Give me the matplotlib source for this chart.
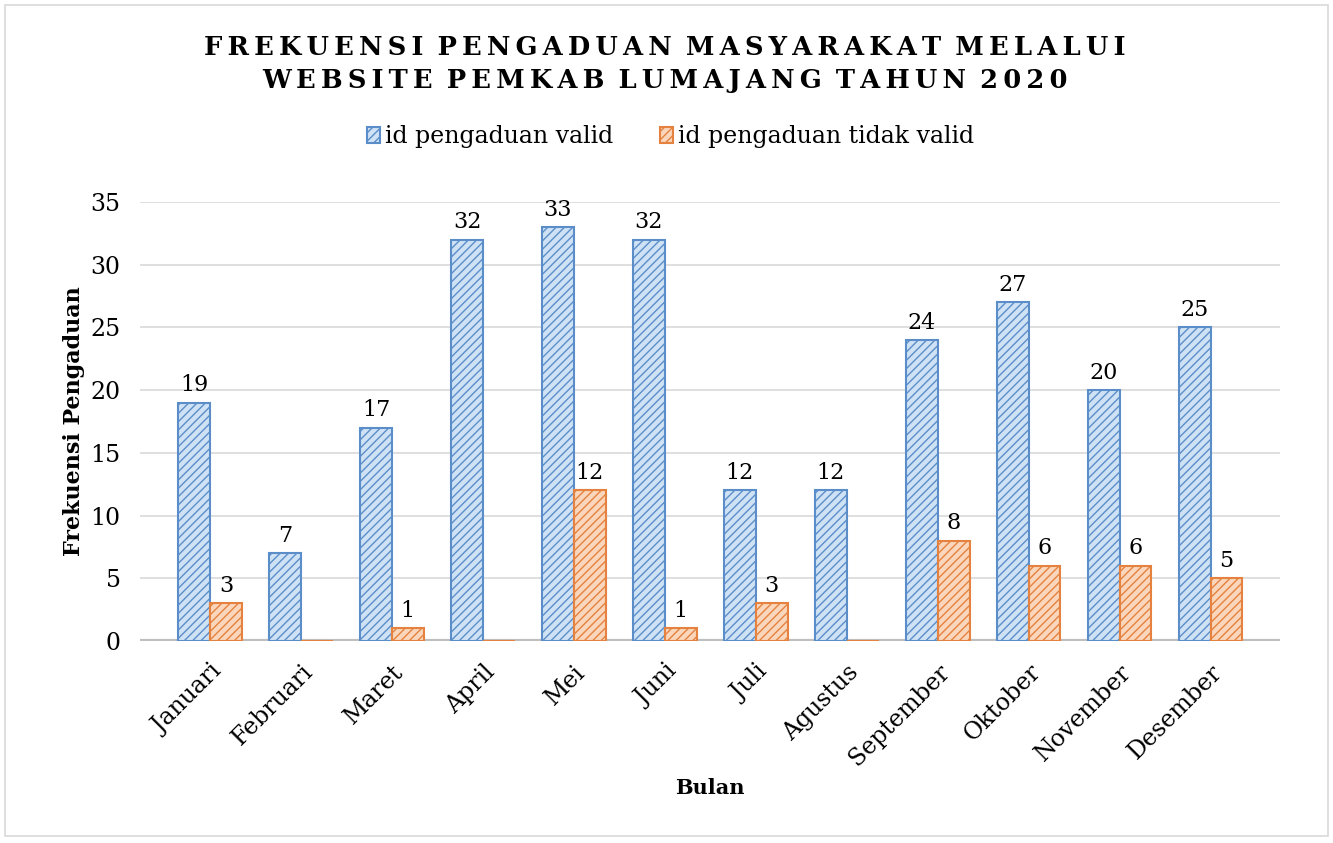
import matplotlib
matplotlib.use("Agg")
import matplotlib.pyplot as plt
import numpy as np

months = ["Januari", "Februari", "Maret", "April", "Mei", "Juni", "Juli",
          "Agustus", "September", "Oktober", "November", "Desember"]
valid = [19, 7, 17, 32, 33, 32, 12, 12, 24, 27, 20, 25]
invalid = [3, 0, 1, 0, 12, 1, 3, 0, 8, 6, 6, 5]
yticks = [0, 5, 10, 15, 20, 25, 30, 35]

plt.rcParams['font.family'] = ['DejaVu Serif']
plt.rcParams['hatch.linewidth'] = 1.0

fig = plt.figure(figsize=(13.33, 8.43), dpi=100)
# outer border
fig.patches.append(plt.Rectangle((0.004, 0.008), 0.992, 0.986, transform=fig.transFigure,
                                 fill=False, edgecolor="#D9D9D9", linewidth=1.2))
ax = fig.add_axes([0.105, 0.2396, 0.855, 0.5208])

x = np.arange(len(months))
w = 0.35
blue_fill = "#CFE2F5"
blue_edge = "#5B8EC9"
or_fill = "#FAD6BC"
or_edge = "#E5823F"

plt.rcParams['hatch.color'] = blue_edge
bv = ax.bar(x - w / 2, valid, w, color=blue_fill, edgecolor=blue_edge, hatch="////",
            linewidth=1.5, zorder=3, label="id pengaduan valid")
bi = ax.bar(x + w / 2, invalid, w, color=or_fill, edgecolor=or_edge, hatch="////",
            linewidth=1.5, zorder=3, label="id pengaduan tidak valid")
for b in bi:
    b._hatch_color = matplotlib.colors.to_rgba(or_edge)

for xi, v in zip(x, valid):
    ax.text(xi - w / 2, v + 0.5, str(v), ha="center", va="bottom", fontsize=16)
for xi, v in zip(x, invalid):
    if v > 0:
        ax.text(xi + w / 2, v + 0.5, str(v), ha="center", va="bottom", fontsize=16)

ax.set_xlim(-0.77, 11.76)
ax.set_ylim(0, 35)
ax.set_yticks(yticks)
ax.set_yticklabels([str(t) for t in yticks], fontsize=17)
ax.set_xticks(x)
ax.set_xticklabels(months, rotation=45, ha="right", rotation_mode="anchor", fontsize=17)
ax.tick_params(axis="both", length=0)
ax.tick_params(axis="x", pad=14)
ax.tick_params(axis="y", pad=14)
ax.grid(axis="y", color="#D9D9D9", linewidth=1.2, zorder=0)
for s in ax.spines.values():
    s.set_visible(False)
ax.axhline(0, color="#BFBFBF", linewidth=3, zorder=2)

ax.set_xlabel("Bulan", fontsize=15, fontweight="bold", labelpad=6)
ax.set_ylabel("Frekuensi Pengaduan", fontsize=16, fontweight="bold", labelpad=4)

def spaced(s):
    return " \u2009".join("\u2009".join(word) for word in s.split(" "))

fig.text(0.499, 0.944, spaced("FREKUENSI PENGADUAN MASYARAKAT MELALUI"), ha="center",
         va="center", fontsize=18.5, fontweight="bold")
fig.text(0.499, 0.905, spaced("WEBSITE PEMKAB LUMAJANG TAHUN 2020"), ha="center",
         va="center", fontsize=18.5, fontweight="bold")

leg = fig.legend(handles=[bv, bi], loc="center", bbox_to_anchor=(0.503, 0.838), ncol=2,
                 frameon=False, fontsize=17, handlelength=0.55, handleheight=0.7,
                 handletextpad=0.2, columnspacing=2.0)

fig.savefig("out.png", dpi=100)
